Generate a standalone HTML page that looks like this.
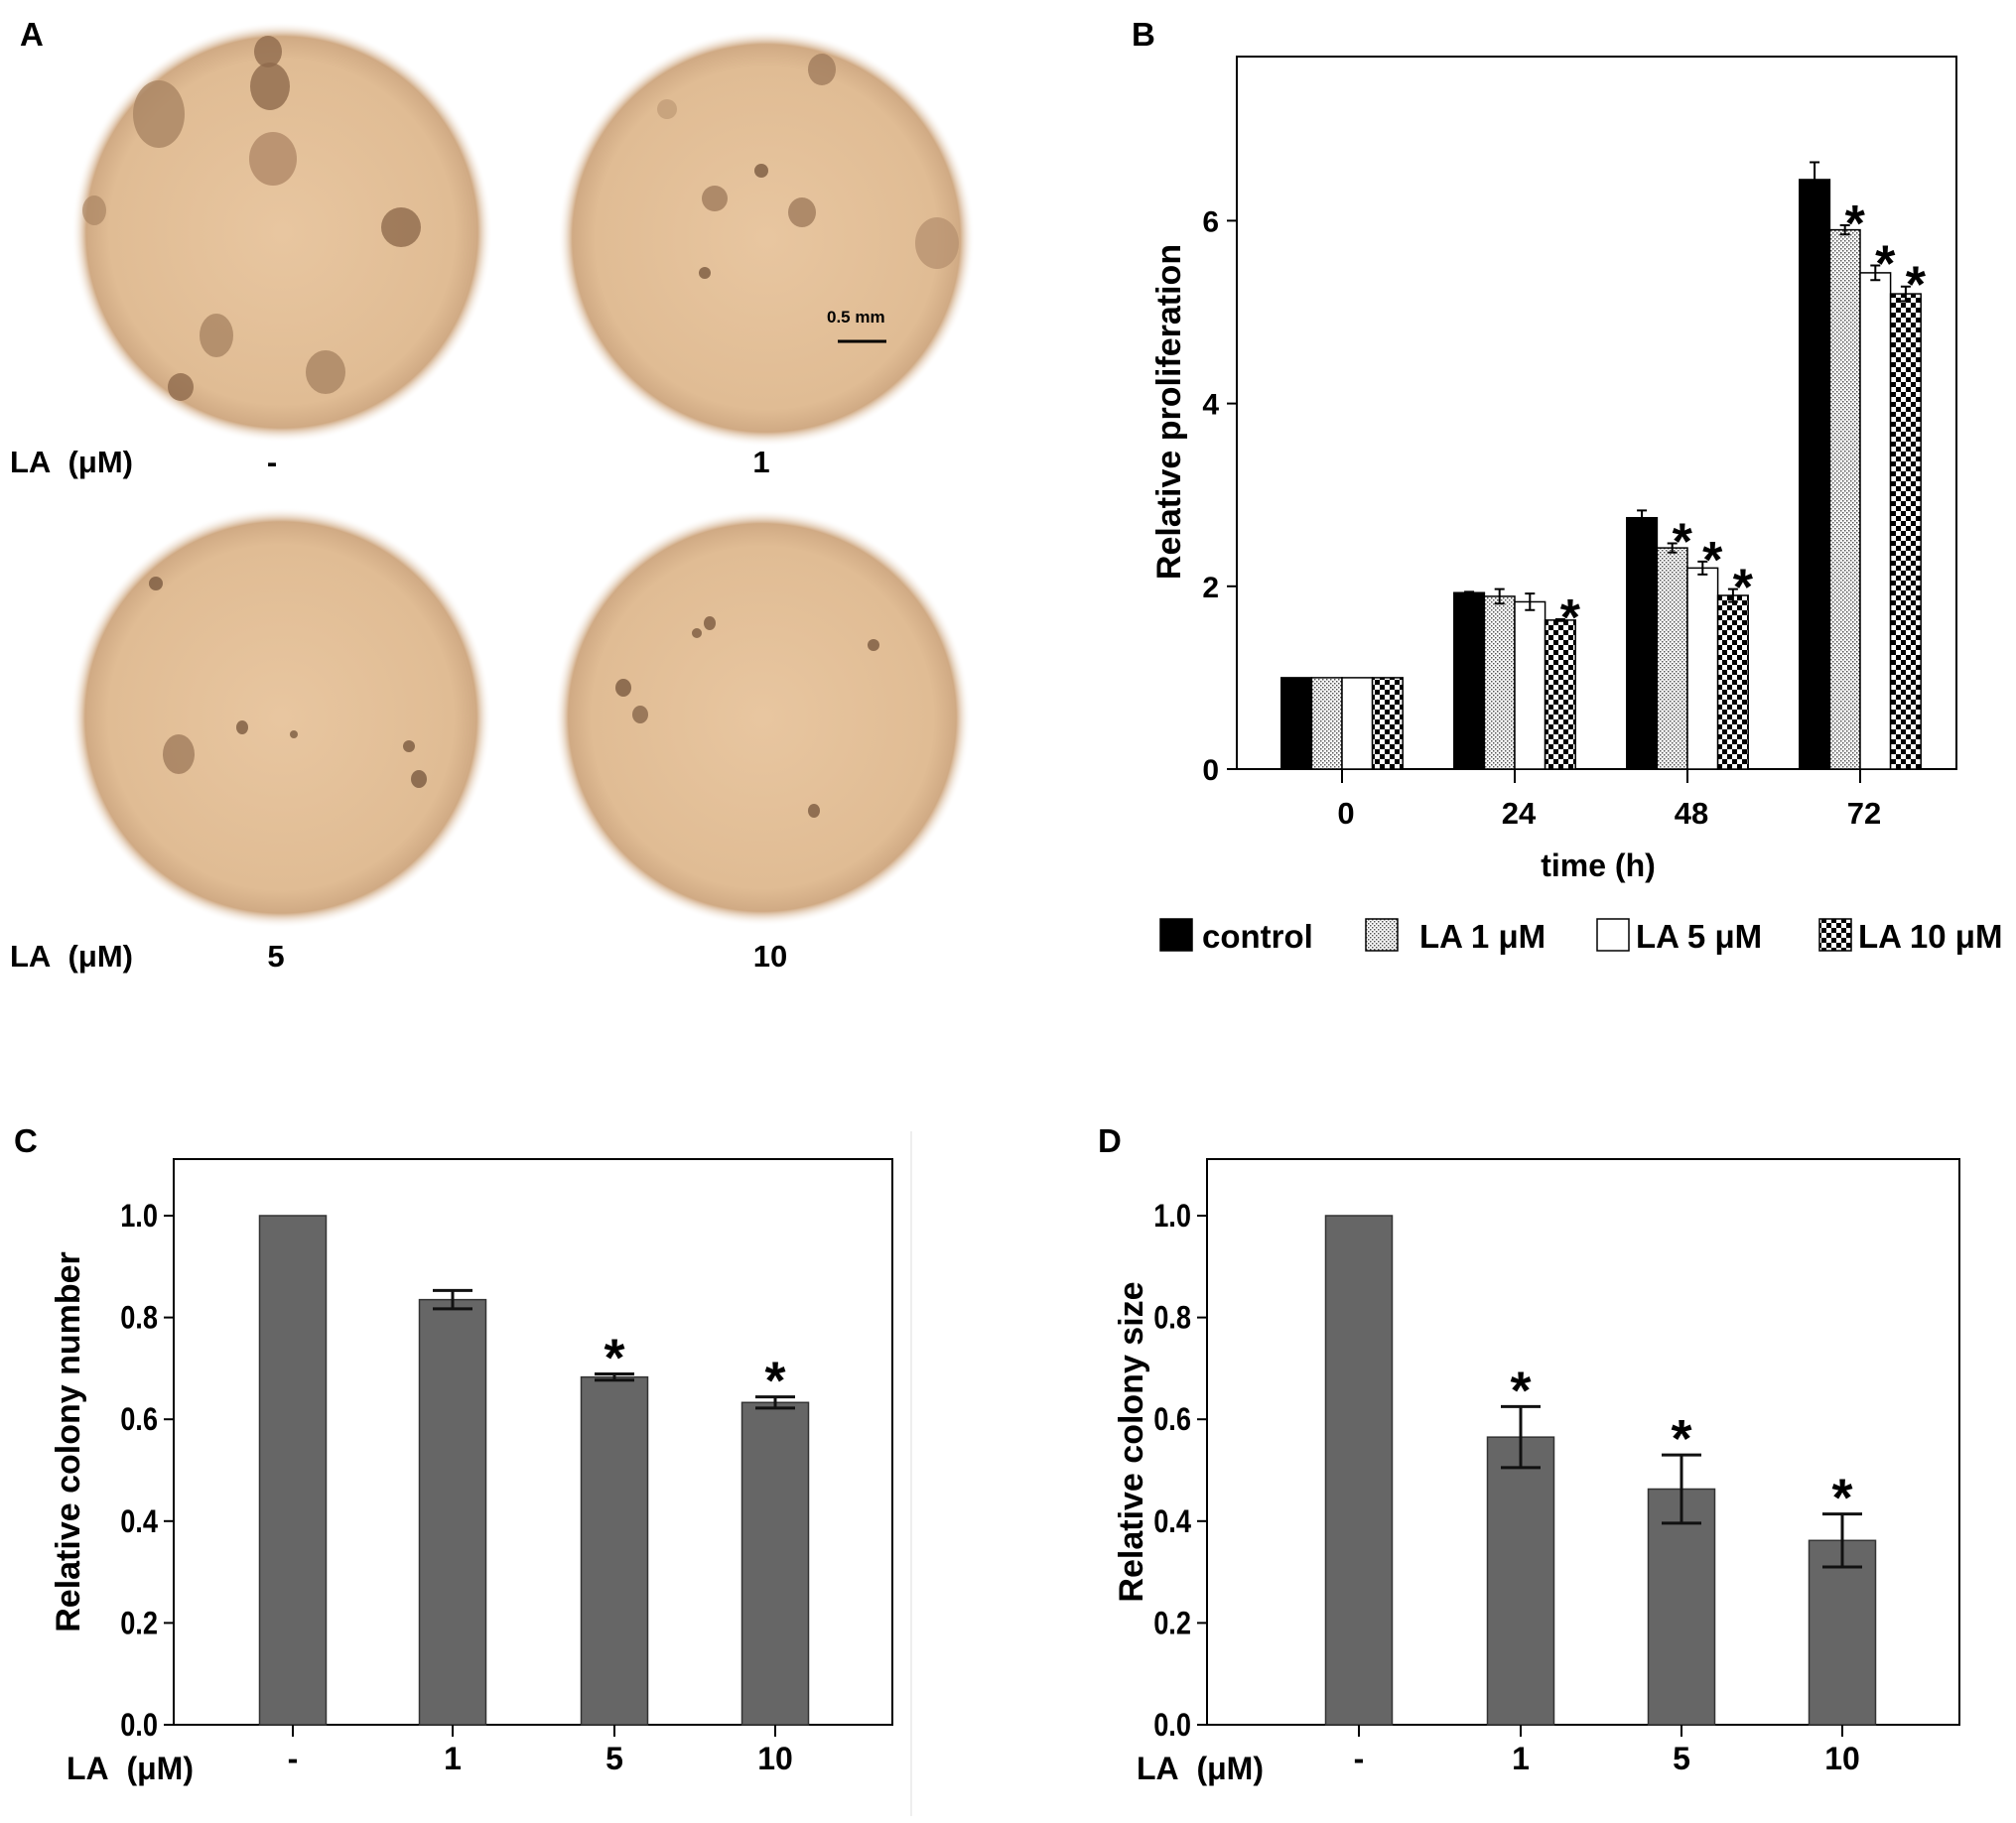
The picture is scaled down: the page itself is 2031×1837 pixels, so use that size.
<!DOCTYPE html>
<html><head><meta charset="utf-8">
<style>
html,body{margin:0;padding:0;background:#fff;}
svg{display:block;font-family:"Liberation Sans",Arial,sans-serif;}
</style></head>
<body>
<svg id="fig" width="2031" height="1837" viewBox="0 0 2031 1837" xmlns="http://www.w3.org/2000/svg">
<defs>
  <radialGradient id="dish" cx="50%" cy="50%" r="50%">
    <stop offset="0%" stop-color="#e8c6a0"/>
    <stop offset="82%" stop-color="#e0bc94"/>
    <stop offset="93%" stop-color="#d0aa84"/>
    <stop offset="100%" stop-color="#ffffff" stop-opacity="0"/>
  </radialGradient>
  <pattern id="dots" width="4" height="4" patternUnits="userSpaceOnUse">
    <rect width="4" height="4" fill="#fff"/>
    <rect x="0" y="0" width="1.5" height="1.5" fill="#555"/>
    <rect x="2" y="2" width="1.5" height="1.5" fill="#555"/>
  </pattern>
  <pattern id="checks" width="10" height="10" patternUnits="userSpaceOnUse">
    <rect width="10" height="10" fill="#fff"/>
    <rect x="0" y="0" width="5" height="5" fill="#000"/>
    <rect x="5" y="5" width="5" height="5" fill="#000"/>
  </pattern>
</defs>

<!-- Panel A -->
<g>
  <text x="20" y="46" font-size="33" font-weight="bold">A</text>
  <g>
    <circle cx="284" cy="234" r="212" fill="url(#dish)"/>
    <ellipse cx="160" cy="115" rx="26" ry="34" fill="#a98463" opacity="0.8"/>
    <ellipse cx="275" cy="160" rx="24" ry="27" fill="#b08868" opacity="0.8"/>
    <ellipse cx="272" cy="87" rx="20" ry="24" fill="#8e6a4c" opacity="0.8"/>
    <ellipse cx="270" cy="52" rx="14" ry="16" fill="#8e6a4c" opacity="0.8"/>
    <ellipse cx="404" cy="229" rx="20" ry="20" fill="#8e6a4c" opacity="0.8"/>
    <ellipse cx="218" cy="338" rx="17" ry="22" fill="#a98463" opacity="0.8"/>
    <ellipse cx="328" cy="375" rx="20" ry="22" fill="#a98463" opacity="0.8"/>
    <ellipse cx="182" cy="390" rx="13" ry="14" fill="#8e6a4c" opacity="0.8"/>
    <ellipse cx="95" cy="212" rx="12" ry="15" fill="#a98463" opacity="0.7"/>
  </g>
  <g>
    <circle cx="772" cy="240" r="210" fill="url(#dish)"/>
    <ellipse cx="720" cy="200" rx="13" ry="13" fill="#a07c5c" opacity="0.8"/>
    <ellipse cx="808" cy="214" rx="14" ry="15" fill="#a07c5c" opacity="0.8"/>
    <ellipse cx="828" cy="70" rx="14" ry="16" fill="#a07c5c" opacity="0.8"/>
    <ellipse cx="944" cy="245" rx="22" ry="26" fill="#b89270" opacity="0.8"/>
    <ellipse cx="710" cy="275" rx="6" ry="6" fill="#7a5a40" opacity="0.8"/>
    <ellipse cx="767" cy="172" rx="7" ry="7" fill="#7a5a40" opacity="0.8"/>
    <ellipse cx="672" cy="110" rx="10" ry="10" fill="#b89270" opacity="0.6"/>
  </g>
  <g>
    <circle cx="283" cy="723" r="212" fill="url(#dish)"/>
    <ellipse cx="180" cy="760" rx="16" ry="20" fill="#a07c5c" opacity="0.8"/>
    <ellipse cx="422" cy="785" rx="8" ry="9" fill="#7a5a40" opacity="0.8"/>
    <ellipse cx="412" cy="752" rx="6" ry="6" fill="#7a5a40" opacity="0.8"/>
    <ellipse cx="244" cy="733" rx="6" ry="7" fill="#7a5a40" opacity="0.8"/>
    <ellipse cx="157" cy="588" rx="7" ry="7" fill="#7a5a40" opacity="0.8"/>
    <ellipse cx="296" cy="740" rx="4" ry="4" fill="#7a5a40" opacity="0.8"/>
  </g>
  <g>
    <circle cx="768" cy="723" r="210" fill="url(#dish)"/>
    <ellipse cx="715" cy="628" rx="6" ry="7" fill="#7a5a40" opacity="0.8"/>
    <ellipse cx="702" cy="638" rx="5" ry="5" fill="#7a5a40" opacity="0.8"/>
    <ellipse cx="628" cy="693" rx="8" ry="9" fill="#7a5a40" opacity="0.8"/>
    <ellipse cx="880" cy="650" rx="6" ry="6" fill="#7a5a40" opacity="0.8"/>
    <ellipse cx="820" cy="817" rx="6" ry="7" fill="#7a5a40" opacity="0.8"/>
    <ellipse cx="645" cy="720" rx="8" ry="9" fill="#7a5a40" opacity="0.7"/>
  </g>
  <text x="833" y="325" font-size="17" font-weight="bold">0.5 mm</text>
  <line x1="844" y1="344" x2="893" y2="344" stroke="#000" stroke-width="3"/>
  <g font-size="31" font-weight="bold">
    <text x="10" y="476">LA&#160;&#160;(μM)</text>
    <text x="274" y="476" text-anchor="middle">-</text>
    <text x="767" y="476" text-anchor="middle">1</text>
    <text x="10" y="974">LA&#160;&#160;(μM)</text>
    <text x="278" y="974" text-anchor="middle">5</text>
    <text x="776" y="974" text-anchor="middle">10</text>
  </g>
</g>

<!-- Panel B -->
<g id="panelB">
  <text x="1140" y="46" font-size="33" font-weight="bold">B</text>
</g>
<!-- Panel C -->
<g id="panelC">
  <text x="14" y="1161" font-size="33" font-weight="bold">C</text>
  <line x1="918" y1="1140" x2="918" y2="1830" stroke="#eee" stroke-width="2"/>
</g>
<!-- Panel D -->
<g id="panelD">
  <text x="1106" y="1161" font-size="33" font-weight="bold">D</text>
</g>
</svg>

<script>
// ---------- Panel B data ----------
const bCategories = ["0", "24", "48", "72"];
const bSeriesNames = ["control", "LA 1 μM", "LA 5 μM", "LA 10 μM"];
const bControl = [1.0, 1.93, 2.75, 6.45];
const bLA1 = [1.0, 1.89, 2.42, 5.90];
const bLA5 = [1.0, 1.83, 2.20, 5.43];
const bLA10 = [1.0, 1.63, 1.90, 5.20];
const bErrControl = [0, 0.01, 0.08, 0.19];
const bErrLA1 = [0, 0.08, 0.05, 0.05];
const bErrLA5 = [0, 0.09, 0.07, 0.08];
const bErrLA10 = [0, 0.01, 0.07, 0.08];
const bSigLA1 = [false, false, true, true];
const bSigLA5 = [false, false, true, true];
const bSigLA10 = [false, true, true, true];
const bTicks = [0, 2, 4, 6];

// ---------- Panel C data ----------
const cCategories = ["-", "1", "5", "10"];
const cValues = [1.0, 0.835, 0.683, 0.633];
const cErrors = [0.0, 0.018, 0.006, 0.011];
const cSig = [false, false, true, true];
const cTicks = ["0.0", "0.2", "0.4", "0.6", "0.8", "1.0"];

// ---------- Panel D data ----------
const dCategories = ["-", "1", "5", "10"];
const dValues = [1.0, 0.565, 0.463, 0.362];
const dErrors = [0.0, 0.06, 0.067, 0.052];
const dSig = [false, true, true, true];
const dTicks = ["0.0", "0.2", "0.4", "0.6", "0.8", "1.0"];

const NS = "http://www.w3.org/2000/svg";
function mk(parent, tag, attrs, text) {
  const el = document.createElementNS(NS, tag);
  for (const k in attrs) el.setAttribute(k, attrs[k]);
  if (text !== undefined) el.textContent = text;
  parent.appendChild(el);
  return el;
}

// ===== Panel B =====
(function () {
  const g = document.getElementById("panelB");
  const L = 1246, R = 1971, T = 57, B0 = 775, unit = 92.1;
  const y = v => B0 - v * unit;
  const x0 = 1352, step = 174, bw = 30.6;
  const xc = i => x0 + i * step;
  const frame = mk(g, "rect", {x: L, y: T, width: R - L, height: B0 - T, fill: "none", stroke: "#000", "stroke-width": 2});
  
  
  bTicks.forEach(t => {
    const tk = mk(g, "line", {x1: L - 10, x2: L, y1: y(t), y2: y(t), stroke: "#000", "stroke-width": 2});
    
    
    const lb = mk(g, "text", {x: L - 18, y: y(t) + 11, "font-size": 30, "font-weight": "bold", "text-anchor": "end"}, String(t));
    
    
  });
  const yt = mk(g, "text", {x: 0, y: 0, "font-size": 34, "font-weight": "bold", "text-anchor": "middle", transform: "translate(1189,415) rotate(-90)"}, "Relative proliferation");
  
  
  const fills = ["#000", "url(#dots)", "#fff", "url(#checks)"];
  const series = [bControl, bLA1, bLA5, bLA10];
  const errs = [bErrControl, bErrLA1, bErrLA5, bErrLA10];
  const sigs = [null, bSigLA1, bSigLA5, bSigLA10];
  bCategories.forEach((c, i) => {
    const tk = mk(g, "line", {x1: xc(i), x2: xc(i), y1: B0, y2: B0 + 14, stroke: "#000", "stroke-width": 2});
    
    
    const lb = mk(g, "text", {x: xc(i) + 4, y: 830, "font-size": 31, "font-weight": "bold", "text-anchor": "middle"}, c);
    
    
    series.forEach((s, j) => {
      const bx = xc(i) - 2 * bw + j * bw;
      const v = s[i];
      const bar = mk(g, "rect", {x: bx, y: y(v), width: bw, height: B0 - y(v), fill: fills[j], stroke: "#000", "stroke-width": 1.5});
      
      
      const e = errs[j][i];
      if (e > 0) {
        const cx = bx + bw / 2;
        const eb = mk(g, "path", {d: `M${cx},${y(v + e)}V${y(v - e)}M${cx - 5},${y(v + e)}H${cx + 5}M${cx - 5},${y(v - e)}H${cx + 5}`, stroke: "#000", "stroke-width": 2, fill: "none"});
        
        
      }
      if (sigs[j] && sigs[j][i]) {
        const st = mk(g, "text", {x: bx + bw / 2 + 10, y: y(v + e) + 16, "font-size": 52, "font-weight": "bold", "text-anchor": "middle"}, "*");
        
        
      }
    });
  });
  const xt = mk(g, "text", {x: 1610, y: 883, "font-size": 32, "font-weight": "bold", "text-anchor": "middle"}, "time (h)");
  
  
  const lx = [1169, 1376, 1609, 1833];
  const tx = [1211, 1430, 1648, 1872];
  bSeriesNames.forEach((n, j) => {
    const sw = mk(g, "rect", {x: lx[j], y: 926, width: 32, height: 32, fill: fills[j], stroke: "#000", "stroke-width": 1.5});
    
    
    const lt = mk(g, "text", {x: tx[j], y: 955, "font-size": 33, "font-weight": "bold"}, n);
    
    
  });
})();

// ===== Panels C & D =====
function simpleBar(id, L, R, cats, vals, errsA, sig, ticks, centers, title, titleX, laX) {
  const g = document.getElementById(id);
  const T = 1168, B0 = 1738, top1 = 1225;
  const y = v => B0 - v * (B0 - top1);
  const frame = mk(g, "rect", {x: L, y: T, width: R - L, height: B0 - T, fill: "none", stroke: "#000", "stroke-width": 2});
  
  
  ticks.forEach(t => {
    const v = parseFloat(t);
    const tk = mk(g, "line", {x1: L - 10, x2: L, y1: y(v), y2: y(v), stroke: "#000", "stroke-width": 2});
    
    
    const lb = mk(g, "text", {x: 0, y: 0, "font-size": 32, "font-weight": "bold", "text-anchor": "end", transform: `translate(${L - 16},${y(v) + 11}) scale(0.85,1)`}, t);
    
    
  });
  const yt = mk(g, "text", {x: 0, y: 0, "font-size": 34, "font-weight": "bold", "text-anchor": "middle", transform: `translate(${titleX},1453) rotate(-90)`}, title);
  
  
  const bw = 67;
  cats.forEach((c, i) => {
    const cx = centers[i];
    const v = vals[i], e = errsA[i];
    const bar = mk(g, "rect", {x: cx - bw / 2, y: y(v), width: bw, height: B0 - y(v), fill: "#666", stroke: "#333", "stroke-width": 1.5});
    
    
    if (e > 0) {
      const eb = mk(g, "path", {d: `M${cx},${y(v + e)}V${y(v - e)}M${cx - 20},${y(v + e)}H${cx + 20}M${cx - 20},${y(v - e)}H${cx + 20}`, stroke: "#111", "stroke-width": 3, fill: "none"});
      
      
    }
    if (sig[i]) {
      const st = mk(g, "text", {x: cx, y: y(v + e) + 2, "font-size": 54, "font-weight": "bold", "text-anchor": "middle"}, "*");
      
      
    }
    const tk = mk(g, "line", {x1: cx, x2: cx, y1: B0, y2: B0 + 12, stroke: "#000", "stroke-width": 2});
    
    
    const lb = mk(g, "text", {x: cx, y: 1783, "font-size": 32, "font-weight": "bold", "text-anchor": "middle"}, c);
    
    
  });
  const la = mk(g, "text", {x: laX, y: 1793, "font-size": 32, "font-weight": "bold"}, "LA\u00a0\u00a0(μM)");
  
  
}
simpleBar("panelC", 175, 899, cCategories, cValues, cErrors, cSig, cTicks, [295, 456, 619, 781], "Relative colony number", 80, 67);
simpleBar("panelD", 1216, 1974, dCategories, dValues, dErrors, dSig, dTicks, [1369, 1532, 1694, 1856], "Relative colony size", 1151, 1145);
</script>
</body></html>
